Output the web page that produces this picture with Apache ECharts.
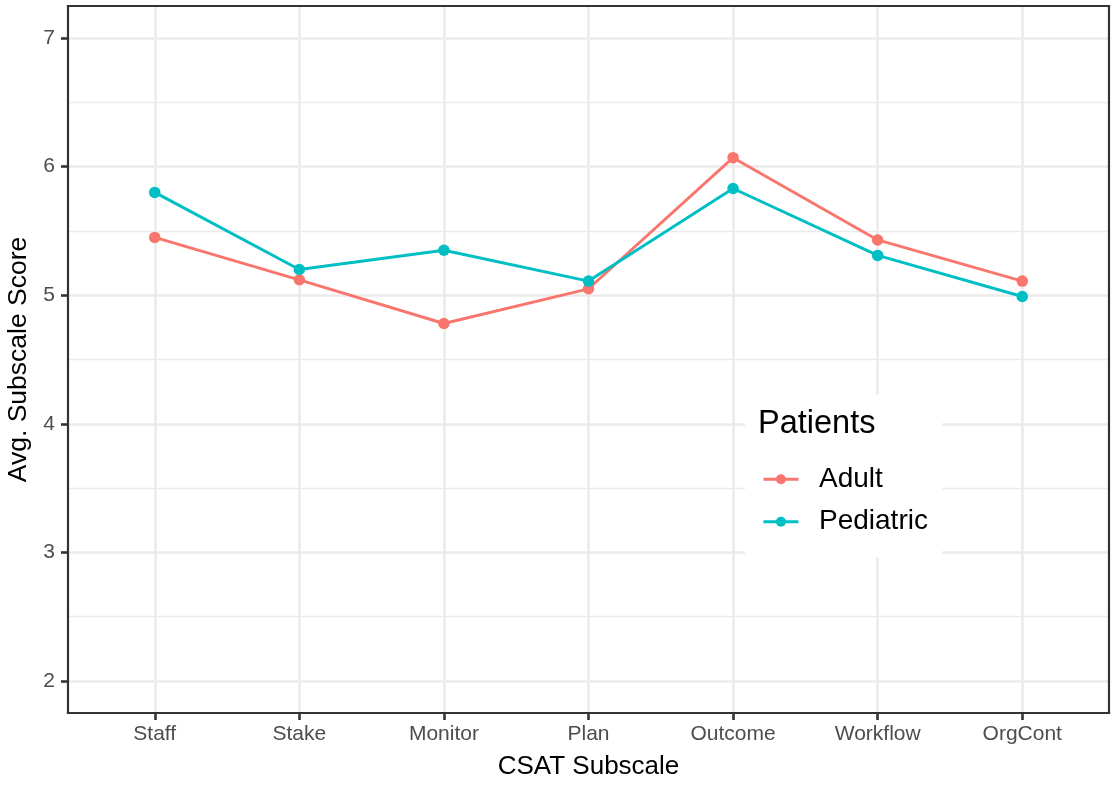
<!DOCTYPE html>
<html><head><meta charset="utf-8">
<script src="https://cdn.jsdelivr.net/npm/echarts@6/dist/echarts.min.js"></script>
<style>html,body{margin:0;padding:0;background:#fff}#c{width:1112px;height:785px}</style>
</head><body><div id="c"></div><script>
const categories = ['Staff','Stake','Monitor','Plan','Outcome','Workflow','OrgCont'];
const adult = [5.45,5.12,4.78,5.05,6.07,5.43,5.11];
const pediatric = [5.80,5.20,5.35,5.11,5.83,5.31,4.99];
const yTicks = [2,3,4,5,6,7];
const yMinor = [2.5,3.5,4.5,5.5,6.5];
const xTicks = categories.map((c,i)=>i+1);
const seriesNames = ['Adult','Pediatric'];
const colors = ['#F8766D','#00BFC4'];
const FONT = "'Liberation Sans', Arial, sans-serif";
const BORDER = {color:'#333333', width:2.2, cap:'square'};

const chart = echarts.init(document.getElementById('c'), null, {renderer:'canvas'});
const mk = (name, vals, color) => ({
  name, type:'line', data: vals.map((v,i)=>[xTicks[i], v]),
  xAxisIndex:0, yAxisIndex:0,
  symbol:'circle', symbolSize:11.5, showSymbol:true,
  lineStyle:{color, width:2.9}, itemStyle:{color},
  emphasis:{disabled:true}, animation:false, z:3
});
chart.setOption({
  animation:false,
  backgroundColor:'#fff',
  grid:{left:68, right:3, top:6, bottom:72, outerBoundsMode:'none', containLabel:false},
  title:{text:'Patients', left:758, top:408, padding:0, z:10,
    textStyle:{fontSize:32.5, fontWeight:'normal', color:'#000', fontFamily:FONT}},
  legend:{left:745, top:395, orient:'vertical', itemWidth:35, itemHeight:12.5, itemGap:14.4,
    padding:[70.3,14.4,21.3,17], backgroundColor:'#fff', z:5, selectedMode:false,
    formatter: n => '  ' + n, data: seriesNames,
    lineStyle:{width:2.9},
    textStyle:{fontSize:28, color:'#000', fontFamily:FONT}},
  xAxis:[
    {type:'value', min:0.4, max:7.6, position:'bottom',
     axisLine:{show:true, onZero:false, lineStyle:BORDER},
     axisTick:{show:true, customValues:xTicks, length:7, lineStyle:{color:'#333333', width:2.6}},
     axisLabel:{customValues:xTicks, formatter: v => categories[Math.round(v)-1], color:'#4D4D4D', fontSize:21, margin:11, fontFamily:FONT},
     splitLine:{show:true, lineStyle:{color:'#EBEBEB', width:2.6}},
     name:'CSAT Subscale', nameLocation:'middle', nameGap:41,
     nameTextStyle:{fontSize:26, color:'#000', fontFamily:FONT}},
    {type:'value', min:0.4, max:7.6, position:'top',
     axisLine:{show:true, onZero:false, lineStyle:BORDER},
     axisTick:{show:false}, axisLabel:{show:false}, splitLine:{show:false}}
  ],
  yAxis:[
    {type:'value', min:1.75, max:7.25, position:'left',
     axisLine:{show:true, onZero:false, lineStyle:BORDER},
     axisTick:{show:true, customValues:yTicks, length:7, lineStyle:{color:'#333333', width:2.6}},
     axisLabel:{customValues:yTicks, color:'#4D4D4D', fontSize:21, margin:13, fontFamily:FONT},
     splitLine:{show:true, lineStyle:{color:'#EBEBEB', width:2.6}},
     name:'Avg. Subscale Score', nameLocation:'middle', nameGap:31,
     nameTextStyle:{fontSize:26.5, color:'#000', fontFamily:FONT}},
    {type:'value', min:1.75, max:7.25, position:'right',
     axisLine:{show:true, onZero:false, lineStyle:BORDER},
     axisTick:{show:false, customValues:yMinor}, axisLabel:{show:false, customValues:yMinor},
     splitLine:{show:true, lineStyle:{color:'#EBEBEB', width:1.3}}}
  ],
  series:[mk(seriesNames[0], adult, colors[0]), mk(seriesNames[1], pediatric, colors[1])]
});
</script></body></html>
